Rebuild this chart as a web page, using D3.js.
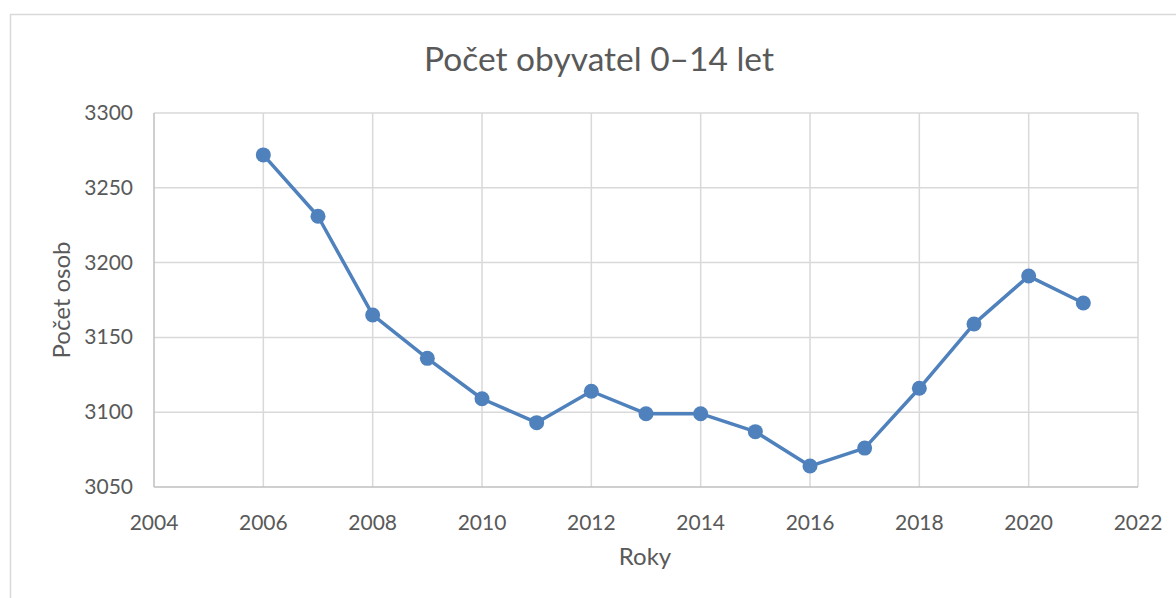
<!DOCTYPE html>
<html>
<head>
<meta charset="utf-8">
<script src="https://d3js.org/d3.v7.min.js"></script>
<style>
    body { margin: 0; background: #fff; }
    text { font-family: Lato, "Open Sans", sans-serif; fill: #595959; }
</style>
</head>
<body>
<div id="chart_area"></div>
<script>
    // data
    let years = [2006, 2007, 2008, 2009, 2010, 2011, 2012, 2013, 2014, 2015, 2016, 2017, 2018, 2019, 2020, 2021];
    let counts = [3272, 3231, 3165, 3136, 3109, 3093, 3114, 3099, 3099, 3087, 3064, 3076, 3116, 3159, 3191, 3173];
    let xTicks = [2004, 2006, 2008, 2010, 2012, 2014, 2016, 2018, 2020, 2022];
    let yTicks = [3050, 3100, 3150, 3200, 3250, 3300];
    let title = "Počet obyvatel 0–14 let";
    let xTitle = "Roky";
    let yTitle = "Počet osob";

    let width = 1176;
    let height = 598;
    let svg = d3.select("#chart_area").append("svg")
        .attr("width", width)
        .attr("height", height);

    // outer chart frame
    svg.append("rect")
        .attr("x", 10.5).attr("y", 14.5)
        .attr("width", 1200).attr("height", 700)
        .attr("fill", "none")
        .attr("stroke", "#d9d9d9")
        .attr("stroke-width", 1.5);

    let x = d3.scaleLinear().domain([2004, 2022]).range([154, 1138]);
    let y = d3.scaleLinear().domain([3050, 3300]).range([487, 113]);

    // gridlines
    svg.selectAll(".vgrid")
        .data(xTicks.slice(1))
        .join("line")
        .attr("class", "vgrid")
        .attr("x1", d => x(d)).attr("x2", d => x(d))
        .attr("y1", y(3300)).attr("y2", y(3050))
        .attr("stroke", "#d9d9d9").attr("stroke-width", 1.5);

    svg.selectAll(".hgrid")
        .data(yTicks.slice(1))
        .join("line")
        .attr("class", "hgrid")
        .attr("x1", x(2004)).attr("x2", x(2022))
        .attr("y1", d => y(d)).attr("y2", d => y(d))
        .attr("stroke", "#d9d9d9").attr("stroke-width", 1.5);

    // axis lines
    svg.append("line")
        .attr("x1", x(2004)).attr("x2", x(2004))
        .attr("y1", y(3300)).attr("y2", y(3050))
        .attr("stroke", "#bfbfbf").attr("stroke-width", 1.5);
    svg.append("line")
        .attr("x1", x(2004)).attr("x2", x(2022))
        .attr("y1", y(3050)).attr("y2", y(3050))
        .attr("stroke", "#bfbfbf").attr("stroke-width", 1.5);

    // tick labels
    svg.selectAll(".xlabel")
        .data(xTicks)
        .join("text")
        .attr("class", "xlabel")
        .attr("x", d => x(d))
        .attr("y", 530)
        .attr("text-anchor", "middle")
        .style("font-size", "21px")
        .text(d => d);

    svg.selectAll(".ylabel")
        .data(yTicks)
        .join("text")
        .attr("class", "ylabel")
        .attr("x", 133)
        .attr("y", d => y(d) + 7)
        .attr("text-anchor", "end")
        .style("font-size", "21px")
        .text(d => d);

    // titles
    svg.append("text")
        .attr("x", 599).attr("y", 71)
        .attr("text-anchor", "middle")
        .style("font-size", "33.5px")
        .text(title);

    svg.append("text")
        .attr("x", 645).attr("y", 565)
        .attr("text-anchor", "middle")
        .style("font-size", "24px")
        .text(xTitle);

    svg.append("text")
        .attr("transform", "translate(70,300) rotate(-90)")
        .attr("text-anchor", "middle")
        .style("font-size", "24px")
        .text(yTitle);

    // series
    let line = d3.line()
        .x((d, i) => x(years[i]))
        .y(d => y(d));

    svg.append("path")
        .datum(counts)
        .attr("d", line)
        .attr("fill", "none")
        .attr("stroke", "#4f81bd")
        .attr("stroke-width", 3.5)
        .attr("stroke-linejoin", "round");

    svg.selectAll(".dot")
        .data(counts)
        .join("circle")
        .attr("class", "dot")
        .attr("cx", (d, i) => x(years[i]))
        .attr("cy", d => y(d))
        .attr("r", 7.5)
        .attr("fill", "#4f81bd");
</script>
</body>
</html>
